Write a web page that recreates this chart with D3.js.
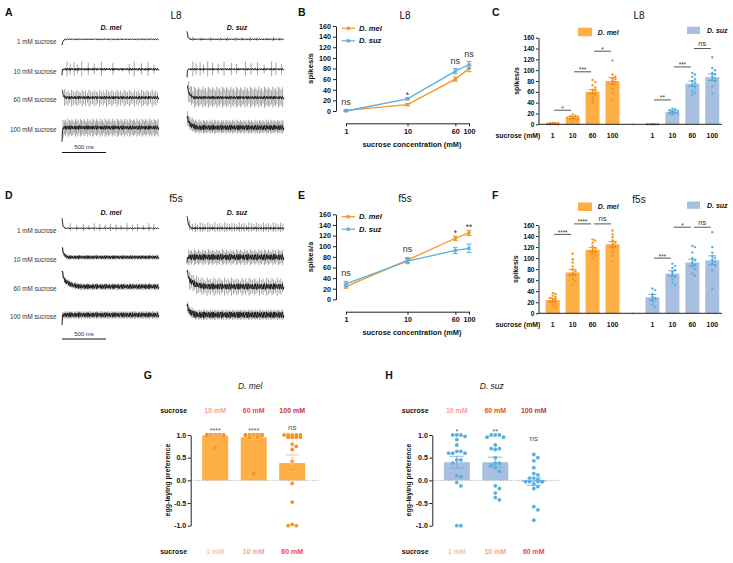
<!DOCTYPE html>
<html><head><meta charset="utf-8">
<script src="https://cdn.jsdelivr.net/npm/d3@7"></script>
<style>body{margin:0;background:#fff}svg{font-family:"Liberation Sans",Arial,sans-serif}</style>
</head><body><svg id="c" width="733" height="563"></svg>
<script>
// ---------------- DATA ----------------
const concentrations = [1, 10, 60, 100];
const concLabels = ["1", "10", "60", "100"];
const rowLabels = ["1 mM sucrose", "10 mM sucrose", "60 mM sucrose", "100 mM sucrose"];
const yTicks = [0, 20, 40, 60, 80, 100, 120, 140, 160];

// L8 sensillum (panels B, C)
const L8_mel_mean = [1.2, 12, 60, 80];
const L8_mel_sem = [0.6, 2, 4, 6];
const L8_suz_mean = [0, 23, 75, 87];
const L8_suz_sem = [0.2, 2, 5, 6];
const L8_line_sig = ["ns", "*", "ns", "ns"];
const L8_mel_pts = [[0,1,2,1,3,0,2,1,0,2],[18,16,14,12,10,8,15,11,9,13],[82,78,72,68,64,62,58,55,50,45,40],[118,92,88,85,83,80,78,75,65,58,46]];
const L8_suz_pts = [[0,0,0,0,0,0],[29,28,26,25,24,22,21,20,18],[95,92,88,84,80,76,72,68,62,58,55],[124,104,100,95,92,88,85,82,80,70,57]];
// brackets: [group(0 mel,1 suz), from index, to index, label, level]
const L8_brackets = [[0,0,1,"*",26],[0,1,2,"***",97],[0,2,3,"*",135],[1,0,1,"**",45],[1,1,2,"***",106],[1,2,3,"ns",140]];

// f5s sensillum (panels E, F)
const f5s_mel_mean = [24, 74, 115, 125];
const f5s_mel_sem = [3, 5, 4, 5];
const f5s_suz_mean = [29, 72, 92, 96];
const f5s_suz_sem = [5, 5, 6, 8];
const f5s_line_sig = ["ns", "ns", "*", "**"];
const f5s_mel_pts = [[37,35,32,30,28,26,24,22,20,17,14,10],[108,98,92,85,80,76,72,70,68,62,58,52],[134,132,128,122,118,115,112,108,104,100],[150,143,138,132,128,125,122,118,112,105,95]];
const f5s_suz_pts = [[45,42,35,30,28,22,16,12],[90,86,82,78,75,70,66,62,56,52],[122,120,110,100,96,92,88,84,80,72,68],[147,120,110,104,100,97,94,90,86,78,45]];
const f5s_brackets = [[0,0,1,"****",143],[0,1,2,"****",162],[0,2,3,"ns",162],[1,0,1,"***",100],[1,1,2,"*",156],[1,2,3,"ns",156]];

// Egg-laying preference (panels G, H)
const prefTopLabels = ["10 mM", "60 mM", "100 mM"];
const prefBottomLabels = ["1 mM", "10 mM", "60 mM"];
const prefTicks = [1.0, 0.5, 0.0, -0.5, -1.0];
const G_mean = [0.99, 0.95, 0.38];
const G_sem = [0.015, 0.05, 0.18];
const G_sig = ["****", "****", "ns"];
const G_sigLevel = [1.14, 1.14, 1.17];
const G_pts = [
  [1,1,1,1,1,1,1,1,1,1,1,1,1,1,1,1,1,1,0.72],
  [1,1,1,1,1,1,1,1,1,1,1,1,1,1,1,1,0.97,0.95,0.15],
  [1,1,1,1,1,0.95,0.95,0.95,0.95,0.8,0.75,0.68,0.42,0.22,-0.07,-0.48,-0.97,-1,-1]
];
const H_mean = [0.40, 0.40, -0.03];
const H_sem = [0.13, 0.11, 0.08];
const H_sig = ["*", "**", "ns"];
const H_sigLevel = [1.12, 1.12, 0.93];
const H_pts = [
  [1,1,1,0.97,0.9,0.78,0.64,0.64,0.6,0.6,0.6,0.45,0.45,0.38,0.1,0.08,-0.05,-0.12,-1,-1],
  [1,1,1,0.95,0.95,0.78,0.7,0.7,0.68,0.5,0.38,0.38,0.33,0.28,0.2,-0.12,-0.18,-0.28,-0.38,-0.43],
  [0.57,0.5,0.43,0.28,0.15,0.12,0.05,0.05,0.02,-0.03,-0.03,-0.03,-0.03,-0.03,-0.08,-0.14,-0.18,-0.58,-0.65,-0.88]
];

// Recording traces (spike times in ms, 1100 ms windows)
const traceDuration = 1100;
const ampVar = [1,0.75,0.9,0.6,1,0.85,0.7,0.95,0.8,0.65];
const A_mel10 = [56,93,138,175,224,298,366,448,578,764,820,902,977,1044];
const A_suz1 = [67,160,272,384,459,552,627,720,794,906,981,1055];
const A_suz10 = [67,104,149,187,235,291,354,421,504,563,664,727,802,877,962,1011,1074];
const A_mel60 = [30,48,70,88,109,128,150,168,190,207,229,248,268,289,306,327,347,366,388,405,427,446,468,487,506,527,545,566,585,607,626,645,666,684,705,725,744,765,784,806,824,845,866,884,905,925,944,966,984,1005,1025,1046,1066,1085];
const A_suz60 = [20,36,52,67,84,99,116,131,147,163,180,195,211,228,243,259,275,291,307,322,339,354,371,386,403,418,434,450,466,482,498,514,530,545,562,577,594,609,625,641,657,673,689,704,721,736,752,769,784,800,816,832,848,864,880,895,912,927,943,959,975,991,1007,1022,1039,1055,1071,1087];
const A_mel100 = [12,27,40,55,68,83,96,111,124,139,153,166,181,194,209,222,237,251,264,279,292,307,321,334,349,362,377,391,404,419,432,447,461,474,489,502,517,531,544,559,572,587,601,614,629,642,657,671,684,699,712,727,741,754,769,782,797,811,824,839,852,867,881,894,909,922,937,951,964,979,992,1007,1021,1034,1049,1062,1077,1091];
const A_suz100 = [8,21,33,47,58,71,85,97,110,122,136,148,161,173,187,199,212,224,238,250,263,275,289,301,314,326,340,352,365,377,391,403,416,428,442,454,467,479,493,505,518,530,544,556,569,581,595,607,620,632,646,658,671,683,697,709,722,734,748,760,773,785,799,811,824,836,850,862,875,887,901,913,926,938,952,964,977,989,1003,1015,1028,1040,1054,1066,1079,1091];
const D_mel1 = [93,168,242,306,366,429,492,552,615,671,739,802,858,925,988,1044];
const D_suz1 = [30,62,95,120,150,178,205,236,262,290,318,345,372,401,428,455,483,510,538,566,594,620,648,676,703,732,760,788,815,842,870,898,925,952,980,1008,1036,1063,1090];
const noiseTimes = [5,16,25,37,44,52,63,76,81,92,104,115,119,131,143,150,158,170,184,190,202,214,219,233,241,255,260,272,283,296,300,312,318,330,344,351,359,371,380,395,399,410,422,437,441,452,463,470,484,491,503,512,523,536,540,551,563,575,580,590,603,611,623,636,639,651,662,677,680,692,701,713,726,731,743,752,766,771,780,794,803,813,827,831,844,855,868,871,882,893,906,910,921,934,945,949,959,970,983,987,998,1010,1019,1031,1043,1050,1059,1072,1083,1095];

const tracesA_mel = [
  {spikes: [], up: 0, down: 0, noise: 0.5, onset: [[0,-6],[10,-2],[35,0]]},
  {spikes: A_mel10, up: 8, down: 7, noise: 1.2, onset: [[0,-6],[6,0]]},
  {spikes: A_mel60, up: 8, down: 9, noise: 1.5, onset: [[0,8],[15,2],[40,0]]},
  {spikes: A_mel100, up: 9, down: 9, noise: 2, onset: [[0,-14],[6,-3],[15,0]]}
];
const tracesA_suz = [
  {spikes: A_suz1, up: 2.5, down: 2, noise: 0.6, onset: [[0,8],[12,2],[35,0]]},
  {spikes: A_suz10, up: 8, down: 7, noise: 1, onset: [[0,-8],[6,-1],[15,0]]},
  {spikes: A_suz60, up: 11, down: 10, noise: 1.5, onset: [[0,12],[25,4],[70,0]]},
  {spikes: A_suz100, up: 8, down: 6, noise: 2.5, onset: [[0,10],[35,3],[110,0]]}
];
const tracesD_mel = [
  {spikes: D_mel1, up: 5, down: 3, noise: 0.6, onset: [[0,10],[12,2],[35,0]]},
  {spikes: A_suz100, up: 2.5, down: 2.5, noise: 1.5, onset: [[0,10],[20,3],[60,0]]},
  {spikes: A_mel100, up: 3.5, down: 3.5, noise: 2.2, onset: [[0,15],[30,6],[100,2],[200,0]]},
  {spikes: A_suz100, up: 4, down: 4, noise: 2.2, onset: [[0,-10],[5,-2],[15,0]]}
];
const tracesD_suz = [
  {spikes: D_suz1, up: 6, down: 4, noise: 1, onset: [[0,12],[18,3],[50,0]]},
  {spikes: A_suz60, up: 8, down: 8, noise: 3, onset: [[0,-6],[10,0]]},
  {spikes: A_mel60, up: 9, down: 9, noise: 3, onset: [[0,15],[30,6],[100,2],[200,0]]},
  {spikes: A_suz100, up: 5.5, down: 5, noise: 3, onset: [[0,9],[30,3],[100,0]]}
];

// ---------------- DRAWING ----------------
const ORANGE = "#F7941D", ORANGE_BAR = "#FDAE45", ORANGE_ERR = "#E8861A";
const BLUE = "#5AAFDD", BLUE_BAR = "#A8BFE0", BLUE_ERR = "#4E9FD3";
const svg = d3.select("#c");

function txt(g, x, y, s, o = {}) {
  const t = g.append("text").attr("x", x).attr("y", y).text(s)
    .attr("font-size", o.size || 7)
    .attr("font-weight", o.bold ? "bold" : "normal")
    .attr("font-style", o.italic ? "italic" : "normal")
    .attr("text-anchor", o.anchor || "start")
    .attr("fill", o.fill || "#111");
  if (o.rotate) t.attr("transform", `rotate(${o.rotate},${x},${y})`);
  return t;
}
function styleAxis(ax, size) {
  ax.selectAll("path.domain").attr("stroke", "#222").attr("stroke-width", 1);
  ax.selectAll(".tick line").attr("stroke", "#222").attr("stroke-width", 1);
  ax.selectAll("text").attr("font-size", size).attr("font-weight", "bold").attr("fill", "#111")
    .attr("font-family", '"Liberation Sans", Arial, sans-serif');
}

// ---- traces ----
function drawTrace(g, x0, yBase, tr) {
  const xs = d3.scaleLinear().domain([0, traceDuration]).range([x0, x0 + 96.8]);
  const ys = d3.scaleLinear().domain([-1, 1]).range([yBase + 1, yBase - 1]);
  const base = d3.scaleLinear().domain(tr.onset.map(d => d[0])).range(tr.onset.map(d => d[1])).clamp(true);
  const times = Array.from(new Set([...tr.onset.map(d => d[0]), ...tr.spikes, traceDuration])).sort((a, b) => a - b);
  // spikes
  let p = "";
  tr.spikes.forEach((t, i) => {
    const f = ampVar[i % ampVar.length];
    p += `M${xs(t)},${ys(base(t) + tr.up * f)}L${xs(t)},${ys(base(t) - tr.down * f)}`;
  });
  g.append("path").attr("d", p).attr("stroke", "#666").attr("stroke-width", 0.6).attr("fill", "none");
  // noisy baseline
  const nd = noiseTimes.map((t, i) => [t, base(t) + (i % 2 ? -1 : 1) * tr.noise * ampVar[(i * 3) % ampVar.length]]);
  const pts = [[0, base(0)], ...tr.onset.slice(1).map(d => [d[0], d[1]]), ...nd, [traceDuration, base(traceDuration)]].sort((a, b) => a[0] - b[0]);
  const line = d3.line().x(d => xs(d[0])).y(d => ys(d[1]));
  g.append("path").attr("d", line(pts)).attr("stroke", "#111").attr("stroke-width", 0.9).attr("fill", "none");
}
function tracePanel(letter, region, labelY, titleY, rowsY, melTr, suzTr, scaleY) {
  const g = svg.append("g");
  txt(g, 5, labelY, letter, {size: 10.5, bold: true});
  txt(g, 176, labelY + 3.3, region, {size: 10, anchor: "middle"});
  txt(g, 111, titleY, "D. mel", {size: 7, bold: true, italic: true, anchor: "middle"});
  txt(g, 237, titleY, "D. suz", {size: 7, bold: true, italic: true, anchor: "middle"});
  rowsY.forEach((y, i) => {
    txt(g, 56.5, y + 4.2, rowLabels[i], {size: 6.3, anchor: "end", fill: "#333"});
    drawTrace(g, 62, y, melTr[i]);
    drawTrace(g, 187, y, suzTr[i]);
  });
  const sb = d3.scaleLinear().domain([0, traceDuration]).range([62, 62 + 96.8]);
  g.append("line").attr("x1", sb(0)).attr("x2", sb(500)).attr("y1", scaleY + 3.5).attr("y2", scaleY + 3.5).attr("stroke", "#111").attr("stroke-width", 1);
  txt(g, (sb(0) + sb(500)) / 2, scaleY, "500 ms", {size: 6, anchor: "middle", fill: "#333"});
}
tracePanel("A", "L8", 16, 29.5, [39.3, 69.3, 97.7, 127.7], tracesA_mel, tracesA_suz, 149);
tracePanel("D", "f5s", 198.7, 215, [228.3, 257.3, 286.7, 315], tracesD_mel, tracesD_suz, 335.5);

// ---- line charts (B, E) ----
function lineChart(letter, region, labelY, legY, yTop, yBot, xAxisY, melM, melS, suzM, suzS, sig) {
  const g = svg.append("g");
  txt(g, 298, labelY, letter, {size: 10.5, bold: true});
  txt(g, 405, labelY + 3.5, region, {size: 10, anchor: "middle"});
  const x = d3.scaleLog().domain([1, 100]).range([346, 469]);
  const y = d3.scaleLinear().domain([0, 160]).range([yBot, yTop]);
  const ya = g.append("g").attr("transform", "translate(336,0)")
    .call(d3.axisLeft(y).tickValues(yTicks).tickSize(3).tickSizeOuter(0).tickPadding(2));
  styleAxis(ya, 7.2);
  const xa = g.append("g").attr("transform", `translate(0,${xAxisY})`)
    .call(d3.axisBottom(x).tickValues(concentrations).tickFormat((d, i) => concLabels[i]).tickSize(3).tickSizeOuter(0).tickPadding(2.5));
  styleAxis(xa, 7.2);
  txt(g, 313, (yTop + yBot) / 2, "spikes/s", {size: 7.8, bold: true, anchor: "middle", rotate: -90});
  txt(g, 412, xAxisY + 23.5, "sucrose concentration (mM)", {size: 7.4, bold: true, anchor: "middle"});
  const series = [[melM, melS, ORANGE], [suzM, suzS, BLUE]];
  series.forEach(([m, s, col]) => {
    const data = concentrations.map((c, i) => ({c, m: m[i], s: s[i]}));
    g.append("path").attr("d", d3.line().x(d => x(d.c)).y(d => y(d.m))(data))
      .attr("fill", "none").attr("stroke", col).attr("stroke-width", 1.3);
    data.forEach(d => {
      g.append("line").attr("x1", x(d.c)).attr("x2", x(d.c)).attr("y1", y(d.m - d.s)).attr("y2", y(d.m + d.s)).attr("stroke", col).attr("stroke-width", 1);
      [d.m - d.s, d.m + d.s].forEach(v => g.append("line").attr("x1", x(d.c) - 2.5).attr("x2", x(d.c) + 2.5).attr("y1", y(v)).attr("y2", y(v)).attr("stroke", col).attr("stroke-width", 1));
      g.append("rect").attr("x", x(d.c) - 1.6).attr("y", y(d.m) - 1.6).attr("width", 3.2).attr("height", 3.2).attr("fill", col);
    });
  });
  sig.forEach((s, i) => {
    const topV = Math.max(melM[i] + melS[i], suzM[i] + suzS[i]);
    const isNs = s === "ns";
    txt(g, x(concentrations[i]), y(topV) - (isNs ? 5 : 0), s, {size: isNs ? 9 : 8.5, anchor: "middle", fill: "#333"});
  });
  // legend
  [["D. mel", ORANGE, legY], ["D. suz", BLUE, legY + 12.5]].forEach(([lab, col, ly]) => {
    g.append("line").attr("x1", 341.7).attr("x2", 355).attr("y1", ly).attr("y2", ly).attr("stroke", col).attr("stroke-width", 1.2);
    g.append("rect").attr("x", 346.7).attr("y", ly - 1.6).attr("width", 3.2).attr("height", 3.2).attr("fill", col);
    txt(g, 359, ly + 2.6, lab, {size: 7.6, bold: true, italic: true});
  });
}
lineChart("B", "L8", 15.5, 28.3, 26, 111, 123.3, L8_mel_mean, L8_mel_sem, L8_suz_mean, L8_suz_sem, L8_line_sig);
lineChart("E", "f5s", 198.7, 216.7, 214.3, 299.4, 311.7, f5s_mel_mean, f5s_mel_sem, f5s_suz_mean, f5s_suz_sem, f5s_line_sig);

// ---- swarm helper ----
function swarm(vals, y, r, maxOff) {
  const out = new Array(vals.length);
  const placed = [];
  const step = 2 * r + 0.3;
  const order = vals.map((v, i) => ({v, i})).sort((a, b) => b.v - a.v);
  order.forEach((d, k) => {
    const py = y(d.v);
    const cands = [0];
    for (let o = step; o <= maxOff + 0.01; o += step) { cands.push(o, -o); }
    let off = null;
    for (const c of cands) {
      if (placed.every(p => Math.hypot(p[0] - c, p[1] - py) >= 2 * r)) { off = c; break; }
    }
    if (off === null) off = cands[k % cands.length];
    placed.push([off, py]);
    out[d.i] = off;
  });
  return out;
}

// ---- bar charts (C, F) ----
function barChart(letter, region, labelY, legY, yTop, yBot, melM, melS, melP, suzM, suzS, suzP, brackets) {
  const g = svg.append("g");
  txt(g, 492, labelY, letter, {size: 10.5, bold: true});
  txt(g, 639, labelY + 3.3, region, {size: 10, anchor: "middle"});
  const slots = ["m0", "m1", "m2", "m3", "gap", "s0", "s1", "s2", "s3"];
  const x = d3.scalePoint().domain(slots).range([552.7, 712.3]);
  const y = d3.scaleLinear().domain([0, 160]).range([yBot, yTop]);
  const bw = 14;
  const groups = [["m", melM, melS, melP, ORANGE_BAR, ORANGE_ERR, ORANGE], ["s", suzM, suzS, suzP, BLUE_BAR, BLUE_ERR, BLUE]];
  groups.forEach(([k, M, S, P, barCol, errCol, ptCol]) => {
    M.forEach((m, i) => {
      const cx = x(k + i);
      g.append("rect").attr("x", cx - bw / 2).attr("y", y(m)).attr("width", bw).attr("height", Math.max(0, y(0) - y(m))).attr("fill", barCol);
    });
    M.forEach((m, i) => {
      const cx = x(k + i);
      const offs = swarm(P[i], y, 1.2, 6);
      P[i].forEach((v, j) => g.append("circle").attr("cx", cx + offs[j]).attr("cy", y(v)).attr("r", 1.2).attr("fill", ptCol));
      const s = S[i];
      g.append("line").attr("x1", cx).attr("x2", cx).attr("y1", y(m - s)).attr("y2", y(m + s)).attr("stroke", errCol).attr("stroke-width", 0.9);
      [m - s, m + s].forEach(v => g.append("line").attr("x1", cx - 4).attr("x2", cx + 4).attr("y1", y(v)).attr("y2", y(v)).attr("stroke", errCol).attr("stroke-width", 0.9));
    });
  });
  const ya = g.append("g").attr("transform", "translate(538.5,0)")
    .call(d3.axisLeft(y).tickValues(yTicks).tickSize(2.5).tickSizeOuter(0).tickPadding(1.5));
  styleAxis(ya, 6.6);
  g.append("line").attr("x1", 538.5).attr("x2", 722).attr("y1", y(0)).attr("y2", y(0)).attr("stroke", "#222").attr("stroke-width", 1);
  g.append("line").attr("x1", 633).attr("x2", 633).attr("y1", y(0) - 1.5).attr("y2", y(0) + 1.5).attr("stroke", "#888").attr("stroke-width", 0.8);
  txt(g, 518.5, (yTop + yBot) / 2, "spikes/s", {size: 7, bold: true, anchor: "middle", rotate: -90});
  const lblY = yBot + 13.3;
  txt(g, 495.5, lblY, "sucrose (mM)", {size: 6.9, bold: true});
  ["m", "s"].forEach(k => concLabels.forEach((c, i) => txt(g, x(k + i), lblY, c, {size: 6.9, bold: true, anchor: "middle"})));
  brackets.forEach(([grp, a, b, lab, lvl]) => {
    const k = grp === 0 ? "m" : "s";
    const x1 = x(k + a) + 1.5, x2 = x(k + b) - 1.5, yy = y(lvl);
    g.append("line").attr("x1", x1).attr("x2", x2).attr("y1", yy).attr("y2", yy).attr("stroke", "#444").attr("stroke-width", 0.9);
    const isNs = lab === "ns";
    txt(g, (x1 + x2) / 2, isNs ? yy - 2.5 : yy + 0.5, lab, {size: isNs ? 7.5 : 6.3, anchor: "middle", fill: "#333"});
  });
  // legend
  g.append("rect").attr("x", 578).attr("y", legY - 4).attr("width", 14).attr("height", 8.5).attr("fill", ORANGE_BAR);
  txt(g, 597.7, legY + 2.8, "D. mel", {size: 7, bold: true, italic: true});
  g.append("rect").attr("x", 687).attr("y", legY - 5).attr("width", 13).attr("height", 7.3).attr("fill", BLUE_BAR);
  txt(g, 707, legY + 1.3, "D. suz", {size: 7, bold: true, italic: true});
}
barChart("C", "L8", 16, 31.7, 37.7, 124.3, L8_mel_mean, L8_mel_sem, L8_mel_pts, L8_suz_mean, L8_suz_sem, L8_suz_pts, L8_brackets);
barChart("F", "f5s", 199.4, 206.5, 225, 313.3, f5s_mel_mean, f5s_mel_sem, f5s_mel_pts, f5s_suz_mean, f5s_suz_sem, f5s_suz_pts, f5s_brackets);

// ---- preference panels (G, H) ----
const topCols = ["#F7A29C", "#EE4B3B", "#C7362C"];
const botCols = ["#FBC0BC", "#F7A29C", "#EE4B3B"];
function prefPanel(letter, title, axisX, means, sems, pts, sig, sigLevel, barCol, errCol, ptCol) {
  const g = svg.append("g");
  txt(g, axisX - 47, 379, letter, {size: 10.5, bold: true});
  const x = d3.scalePoint().domain([0, 1, 2]).range([axisX + 24.5, axisX + 101.5]);
  const y = d3.scaleLinear().domain([-1, 1]).range([525.7, 435]);
  const bw = 26;
  txt(g, axisX + 59.5, 389, title, {size: 8.5, italic: true, anchor: "middle", fill: "#222"});
  txt(g, axisX - 30.5, 413, "sucrose", {size: 7, bold: true});
  txt(g, axisX - 30.5, 553.5, "sucrose", {size: 7, bold: true});
  prefTopLabels.forEach((l, i) => txt(g, x(i), 413, l, {size: 7, bold: true, anchor: "middle", fill: topCols[i]}));
  prefBottomLabels.forEach((l, i) => txt(g, x(i), 553.5, l, {size: 7, bold: true, anchor: "middle", fill: botCols[i]}));
  means.forEach((m, i) => {
    const y0 = y(0), ym = y(m);
    g.append("rect").attr("x", x(i) - bw / 2).attr("y", Math.min(y0, ym)).attr("width", bw).attr("height", Math.abs(y0 - ym)).attr("fill", barCol);
  });
  g.append("line").attr("x1", axisX).attr("x2", axisX + 128).attr("y1", y(0)).attr("y2", y(0))
    .attr("stroke", "#999").attr("stroke-width", 0.8).attr("stroke-dasharray", "1.2,1.5");
  means.forEach((m, i) => {
    const offs = swarm(pts[i], y, 1.9, 10);
    pts[i].forEach((v, j) => g.append("circle").attr("cx", x(i) + offs[j]).attr("cy", y(v)).attr("r", 1.9).attr("fill", ptCol));
    const s = sems[i];
    g.append("line").attr("x1", x(i)).attr("x2", x(i)).attr("y1", y(m - s)).attr("y2", y(m + s)).attr("stroke", errCol).attr("stroke-width", 0.9);
    [m - s, m + s].forEach(v => g.append("line").attr("x1", x(i) - 7).attr("x2", x(i) + 7).attr("y1", y(v)).attr("y2", y(v)).attr("stroke", errCol).attr("stroke-width", 0.9));
    const isNs = sig[i] === "ns";
    txt(g, x(i), y(sigLevel[i]) + (isNs ? 3 : 4), sig[i], {size: isNs ? 8 : 7, anchor: "middle", fill: "#555"});
  });
  const ya = g.append("g").attr("transform", `translate(${axisX},0)`)
    .call(d3.axisLeft(y).tickValues(prefTicks).tickSize(3).tickSizeOuter(0).tickPadding(1.5));
  styleAxis(ya, 7);
  ya.selectAll("text").text(d => d3.format(".1f")(d).replace("−", "-"));
  txt(g, axisX - 21, 480, "egg-laying preference", {size: 7, bold: true, anchor: "middle", rotate: -90});
}
prefPanel("G", "D. mel", 190.7, G_mean, G_sem, G_pts, G_sig, G_sigLevel, ORANGE_BAR, "#F4C27A", ORANGE);
prefPanel("H", "D. suz", 432.3, H_mean, H_sem, H_pts, H_sig, H_sigLevel, BLUE_BAR, "#6FB3E0", BLUE);
</script></body></html>
